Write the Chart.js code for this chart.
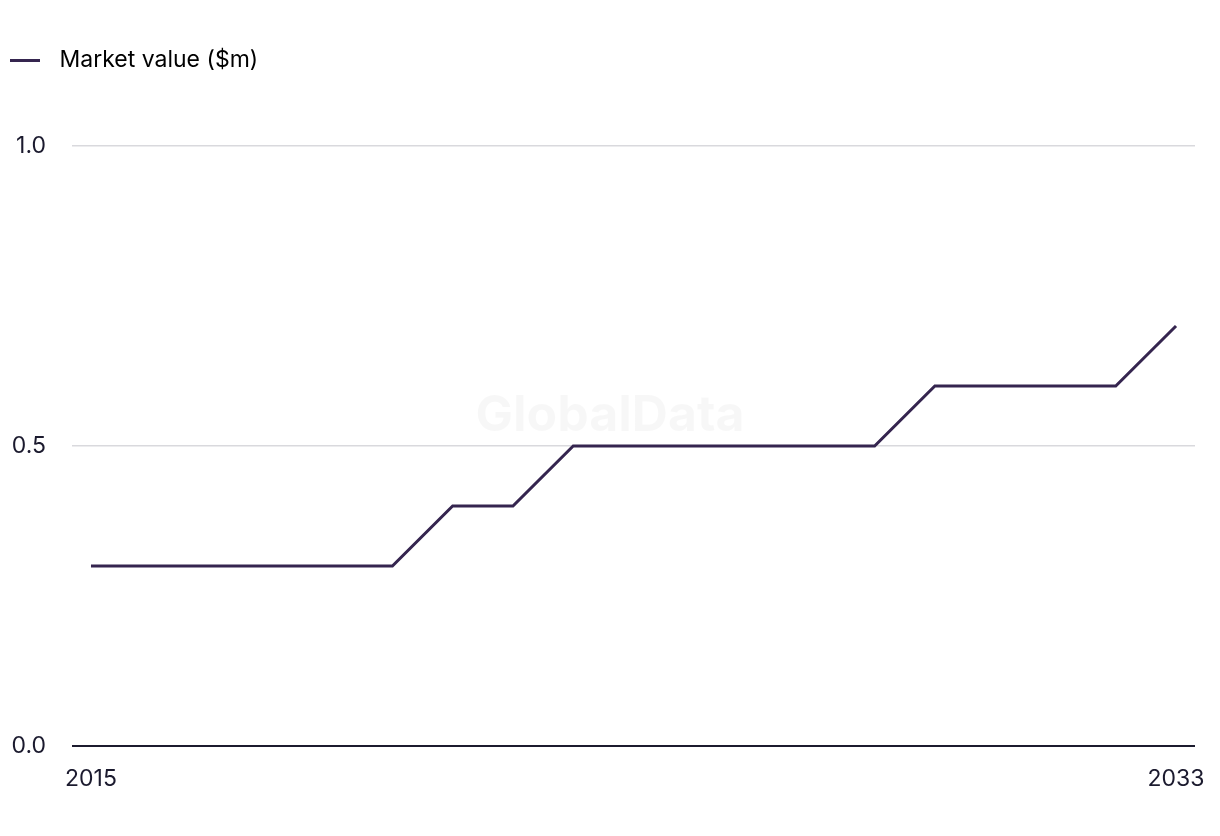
<!DOCTYPE html>
<html>
<head>
<meta charset="utf-8">
<script src="https://cdn.jsdelivr.net/npm/chart.js@4"></script>
<style>
  html, body { margin: 0; padding: 0; background: #ffffff; }
  #wrap { width: 1220px; height: 836px; position: relative; }
</style>
</head>
<body>
<div id="wrap"><canvas id="marketChart"></canvas></div>
<script>
// Chart data
const years = [2015, 2016, 2017, 2018, 2019, 2020, 2021, 2022, 2023, 2024, 2025, 2026, 2027, 2028, 2029, 2030, 2031, 2032, 2033];
const marketValue = [0.3, 0.3, 0.3, 0.3, 0.3, 0.3, 0.4, 0.4, 0.5, 0.5, 0.5, 0.5, 0.5, 0.5, 0.6, 0.6, 0.6, 0.6, 0.7];
const xTickYears = [2015, 2033];
const yTicks = [0, 0.5, 1.0];
const seriesLabel = 'Market value ($m)';

const lineColor = '#35254f';
const textColor = '#1b1a2e';
const fontFamily = "Inter, 'Liberation Sans', Arial, sans-serif";

// Faint watermark behind the line
const watermark = {
    id: 'watermark',
    beforeDatasetsDraw(chart) {
        const ctx = chart.ctx;
        ctx.save();
        ctx.font = 'bold 50px ' + fontFamily;
        ctx.fillStyle = 'rgba(0, 0, 0, 0.03)';
        ctx.textAlign = 'center';
        ctx.textBaseline = 'middle';
        ctx.fillText('GlobalData', 610, 416);
        ctx.restore();
    }
};

// Extra space under the legend
const legendMargin = {
    id: 'legendMargin',
    beforeInit(chart) {
        const fit = chart.legend.fit;
        chart.legend.fit = function () {
            fit.bind(chart.legend)();
            this.height += 64;
        };
    }
};

const ctx = document.getElementById('marketChart').getContext('2d');

// legend swatch: 30px solid line, then a gap before the text
const swatch = ctx.createLinearGradient(10, 0, 48, 0);
swatch.addColorStop(0, lineColor);
swatch.addColorStop(30 / 38, lineColor);
swatch.addColorStop(30 / 38 + 0.001, 'rgba(255,255,255,0)');
swatch.addColorStop(1, 'rgba(255,255,255,0)');

new Chart(ctx, {
    type: 'line',
    data: {
        datasets: [{
            label: seriesLabel,
            data: years.map((y, i) => ({ x: y, y: marketValue[i] })),
            borderColor: lineColor,
            backgroundColor: lineColor,
            borderWidth: 3,
            pointRadius: 0,
            tension: 0
        }]
    },
    options: {
        responsive: true,
        maintainAspectRatio: false,
        animation: false,
        layout: { padding: { top: 39, left: 0, right: 25, bottom: 30 } },
        plugins: {
            legend: {
                position: 'top',
                align: 'start',
                labels: {
                    color: textColor,
                    font: { family: fontFamily, size: 23 },
                    boxWidth: 38,
                    boxHeight: 3,
                    padding: 10,
                    generateLabels: (chart) => [{
                        text: seriesLabel,
                        fillStyle: swatch,
                        strokeStyle: 'rgba(255,255,255,0)',
                        lineWidth: 0,
                        datasetIndex: 0
                    }]
                }
            },
            tooltip: { enabled: false }
        },
        scales: {
            x: {
                type: 'linear',
                min: 2014.685,
                max: 2033.315,
                grid: { display: false, drawTicks: false },
                border: { display: false },
                afterBuildTicks: (axis) => { axis.ticks = xTickYears.map(v => ({ value: v })); },
                afterFit: (axis) => {
                    axis.height = 60;
                    axis.paddingLeft = 0;
                    axis.paddingRight = 0;
                },
                ticks: {
                    color: textColor,
                    font: { family: fontFamily, size: 23 },
                    padding: 19,
                    maxRotation: 0,
                    autoSkip: false,
                    callback: (v) => String(v)
                }
            },
            y: {
                min: 0,
                max: 1.0,
                grid: {
                    color: (c) => c.tick && c.tick.value === 0 ? '#1c1b2e' : '#d9d9dd',
                    lineWidth: (c) => c.tick && c.tick.value === 0 ? 2 : 1.5,
                    drawTicks: false
                },
                border: { display: false },
                afterBuildTicks: (axis) => { axis.ticks = yTicks.map(v => ({ value: v })); },
                afterFit: (axis) => { axis.width = 72; },
                ticks: {
                    color: textColor,
                    font: { family: fontFamily, size: 23 },
                    padding: 26,
                    callback: (v) => v.toFixed(1)
                }
            }
        }
    },
    plugins: [watermark, legendMargin]
});
</script>
</body>
</html>
